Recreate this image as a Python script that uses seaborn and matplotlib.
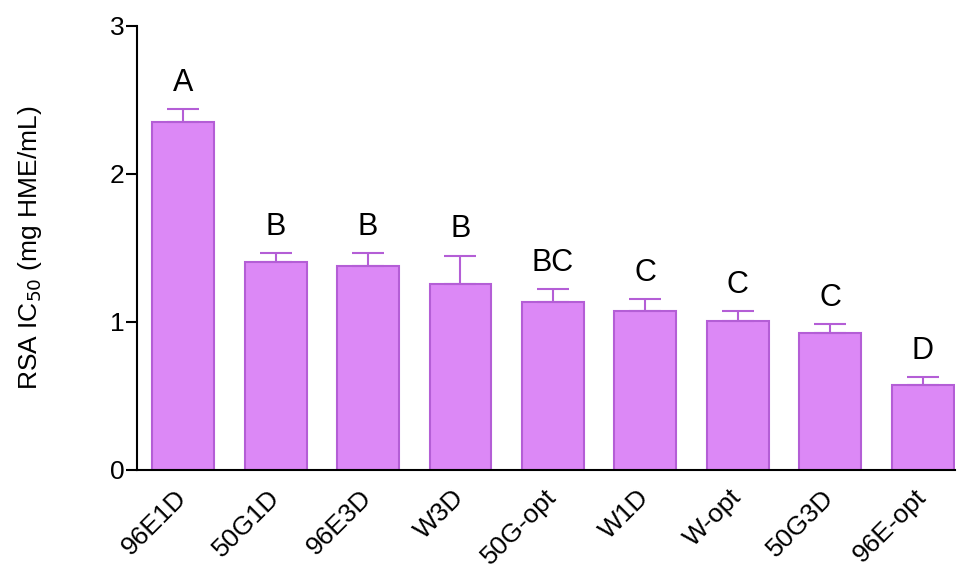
import matplotlib
matplotlib.use("Agg")
import matplotlib.pyplot as plt
import seaborn as sns
import pandas as pd
import numpy as np

# values
samples = ["96E1D", "50G1D", "96E3D", "W3D", "50G-opt", "W1D", "W-opt", "50G3D", "96E-opt"]
ic50 = [2.35, 1.407, 1.377, 1.258, 1.136, 1.076, 1.008, 0.927, 0.574]
err_upper = [0.09, 0.06, 0.09, 0.19, 0.088, 0.081, 0.066, 0.059, 0.052]
letters = ["A", "B", "B", "B", "BC", "C", "C", "C", "D"]

fill_col = "#DC88F6"
edge_col = "#B45ED6"

sns.set_style("ticks")
plt.rcParams["font.family"] = ["Liberation Sans", "DejaVu Sans"]
plt.rcParams["text.color"] = "black"
plt.rcParams["xtick.color"] = "black"
plt.rcParams["ytick.color"] = "black"
plt.rcParams["axes.labelcolor"] = "black"

df = pd.DataFrame({"sample": samples, "ic50": ic50})

fig = plt.figure(figsize=(9.6, 5.69), dpi=100)
ax = fig.add_axes([0.1427, 0.174, 0.852, 0.7808])

sns.barplot(data=df, x="sample", y="ic50", color=fill_col, edgecolor=edge_col,
            linewidth=1.5, width=0.67, saturation=1, ax=ax, errorbar=None)

xs = np.arange(len(samples))
ax.errorbar(xs, ic50, yerr=[np.zeros(len(ic50)), err_upper], fmt="none",
            ecolor=edge_col, elinewidth=1.5, capsize=11.5, capthick=1.5)

for x, v, e, lab in zip(xs, ic50, err_upper, letters):
    ax.annotate(lab, (x, v + e), xytext=(0, 8), textcoords="offset points",
                ha="center", va="bottom", fontsize=22, color="black")

ax.set_xlim(-0.5, 8.35)
ax.set_ylim(0, 3)
ax.set_yticks([0, 1, 2, 3])
ax.tick_params(axis="y", labelsize=19, length=8, width=1.5, pad=1)
ax.tick_params(axis="x", labelsize=19, length=0, pad=17)
for lbl in ax.get_xticklabels():
    lbl.set_rotation(45)
    lbl.set_ha("right")
    lbl.set_va("center")
    lbl.set_rotation_mode("anchor")

ax.set_xlabel("")
ax.set_ylabel("RSA IC$_{50}$ (mg HME/mL)", fontsize=19)
ax.yaxis.set_label_coords(-0.114, 0.5)

sns.despine(ax=ax)
ax.spines["left"].set_linewidth(1.5)
ax.spines["bottom"].set_linewidth(1.5)
ax.spines["left"].set_color("black")
ax.spines["bottom"].set_color("black")

fig.savefig("out.png", dpi=100)
